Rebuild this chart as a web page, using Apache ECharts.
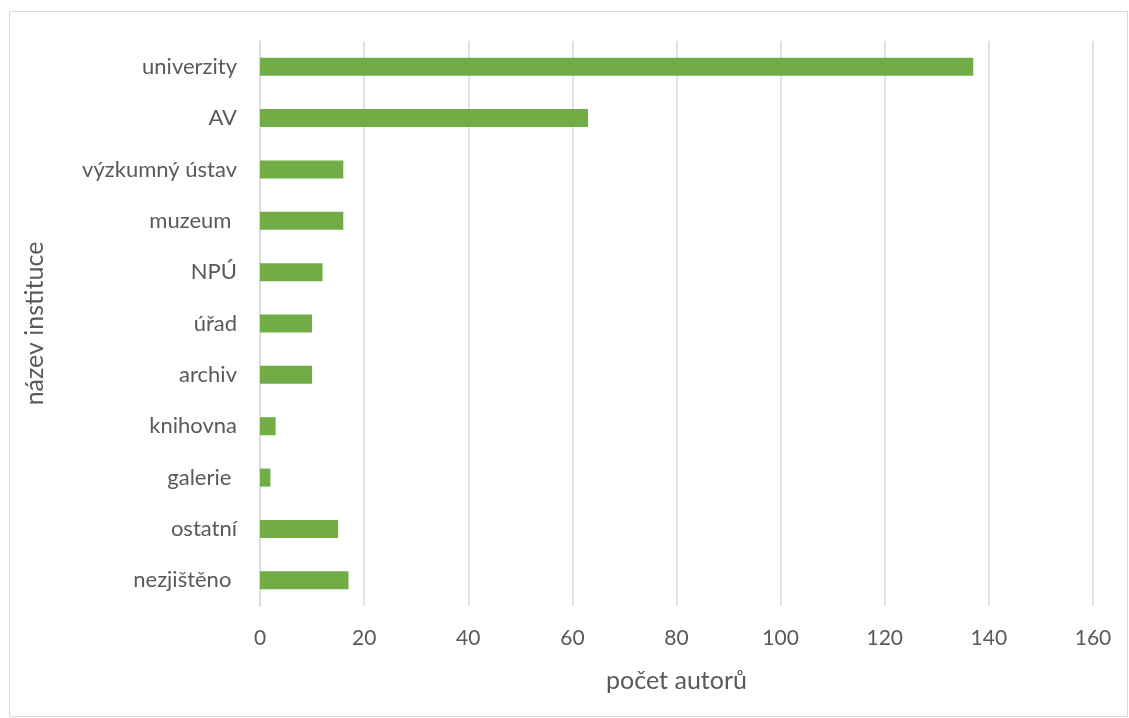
<!DOCTYPE html>
<html><head><meta charset="utf-8">
<script src="https://cdn.jsdelivr.net/npm/echarts@6/dist/echarts.min.js"></script>
<style>html,body{margin:0;padding:0;background:#fff}#c{width:1129px;height:718px}</style>
</head><body><div id="c"></div>
<script>
const categories = ["univerzity","AV","výzkumný ústav","muzeum ","NPÚ","úřad","archiv","knihovna","galerie ","ostatní","nezjištěno "];
const values = [137,63,16,16,12,10,10,3,2,15,17];
const xTicks = [0,20,40,60,80,100,120,140,160];

const chart = echarts.init(document.getElementById('c'), null, {renderer:'canvas'});
const font = 'Lato, "Open Sans", sans-serif';
chart.setOption({
  animation:false,
  backgroundColor:'#fff',
  graphic:[{type:'rect',shape:{x:9.5,y:11.5,width:1118,height:705},style:{fill:'none',stroke:'#d9d9d9',lineWidth:1},silent:true}],
  grid:{left:260,right:36,top:41,bottom:112,containLabel:false},
  xAxis:{type:'value',min:xTicks[0],max:xTicks[xTicks.length-1],interval:20,
    name:'počet autorů',nameLocation:'middle',nameGap:62,
    nameTextStyle:{fontFamily:font,fontSize:25,color:'#595959'},
    axisLine:{show:false},axisTick:{show:false},
    axisLabel:{fontFamily:font,fontSize:21,color:'#595959',margin:22},
    splitLine:{show:true,lineStyle:{color:'#d9d9d9',width:1.5}}},
  yAxis:{type:'category',data:categories,inverse:true,
    name:'název instituce',nameLocation:'middle',nameGap:213,nameRotate:90,
    nameTextStyle:{fontFamily:font,fontSize:25,color:'#595959'},
    axisLine:{show:true,lineStyle:{color:'#d9d9d9',width:1.5}},axisTick:{show:false},
    axisLabel:{fontFamily:font,fontSize:22,color:'#595959',margin:23}},
  series:[{type:'bar',data:values,barWidth:18,itemStyle:{color:'#70ad47'}}]
});
</script></body></html>
